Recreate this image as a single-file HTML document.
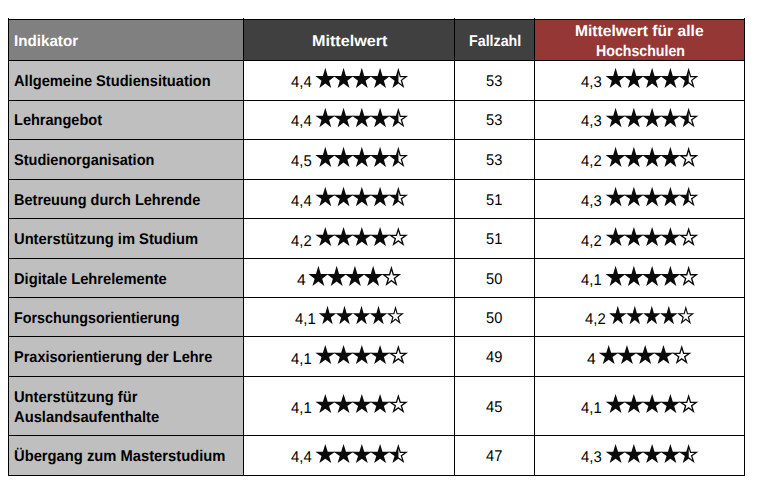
<!DOCTYPE html>
<html><head><meta charset="utf-8"><title>Indikatoren</title>
<style>
html,body{margin:0;padding:0;background:#fff;}
body{width:758px;height:494px;position:relative;overflow:hidden;font-family:"Liberation Sans",sans-serif;text-rendering:geometricPrecision;}
.bg{position:absolute;}
.ln{position:absolute;background:#000;}
.t{position:absolute;white-space:nowrap;transform-origin:0 14px;color:#000;}
.b{font-weight:bold;font-size:15.5px;line-height:20px;}
.r{font-size:15.5px;line-height:20px;}
.w{color:#fff;}
svg{position:absolute;left:0;top:0;}
</style></head><body>
<div class="bg" style="left:8px;top:19px;width:235px;height:41px;background:#808080"></div>
<div class="bg" style="left:243px;top:19px;width:291px;height:41px;background:#404040"></div>
<div class="bg" style="left:534px;top:19px;width:210px;height:41px;background:#953735"></div>
<div class="bg" style="left:8px;top:60px;width:235px;height:415px;background:#bfbfbf"></div>
<div class="ln" style="left:8px;top:19px;width:737px;height:1px"></div>
<div class="ln" style="left:8px;top:60px;width:737px;height:1px"></div>
<div class="ln" style="left:8px;top:100px;width:737px;height:1px"></div>
<div class="ln" style="left:8px;top:139px;width:737px;height:1px"></div>
<div class="ln" style="left:8px;top:179px;width:737px;height:1px"></div>
<div class="ln" style="left:8px;top:218px;width:737px;height:1px"></div>
<div class="ln" style="left:8px;top:258px;width:737px;height:1px"></div>
<div class="ln" style="left:8px;top:297px;width:737px;height:1px"></div>
<div class="ln" style="left:8px;top:336px;width:737px;height:1px"></div>
<div class="ln" style="left:8px;top:376px;width:737px;height:1px"></div>
<div class="ln" style="left:8px;top:435px;width:737px;height:1px"></div>
<div class="ln" style="left:8px;top:475px;width:737px;height:1px"></div>
<div class="ln" style="left:8px;top:18px;width:1px;height:458px"></div>
<div class="ln" style="left:243px;top:18px;width:1px;height:458px"></div>
<div class="ln" style="left:454px;top:18px;width:1px;height:458px"></div>
<div class="ln" style="left:534px;top:18px;width:1px;height:458px"></div>
<div class="ln" style="left:744px;top:18px;width:1px;height:458px"></div>
<div class="t b w" style="top:32px;left:14.30px;transform:scale(0.9793,1.000);">Indikator</div>
<div class="t b w" style="top:32px;left:311.50px;transform:scale(1.0422,1.000);">Mittelwert</div>
<div class="t b w" style="top:32px;left:468.55px;transform:scale(0.9198,1.000);">Fallzahl</div>
<div class="t b w" style="top:22px;left:575.30px;transform:scale(1.0089,1.000);">Mittelwert für alle</div>
<div class="t b w" style="top:42px;left:595.50px;transform:scale(0.9144,1.000);">Hochschulen</div>
<div class="t b" style="top:72px;left:14.30px;transform:scale(0.9438,1.000);">Allgemeine Studiensituation</div>
<div class="t r" style="top:73px;left:290.80px;transform:scale(0.9600,1.000);">4,4</div>
<div class="t r" style="top:72px;left:486.25px;transform:scale(0.9449,1.000);">53</div>
<div class="t r" style="top:73px;left:581.10px;transform:scale(0.9600,1.000);">4,3</div>
<div class="t b" style="top:111px;left:14.30px;transform:scale(0.9374,1.000);">Lehrangebot</div>
<div class="t r" style="top:112px;left:290.80px;transform:scale(0.9600,1.000);">4,4</div>
<div class="t r" style="top:111px;left:486.25px;transform:scale(0.9449,1.000);">53</div>
<div class="t r" style="top:112px;left:581.10px;transform:scale(0.9600,1.000);">4,3</div>
<div class="t b" style="top:151px;left:14.30px;transform:scale(0.9370,1.000);">Studienorganisation</div>
<div class="t r" style="top:152px;left:290.80px;transform:scale(0.9600,1.000);">4,5</div>
<div class="t r" style="top:151px;left:486.25px;transform:scale(0.9449,1.000);">53</div>
<div class="t r" style="top:152px;left:581.10px;transform:scale(0.9600,1.000);">4,2</div>
<div class="t b" style="top:191px;left:14.30px;transform:scale(0.9360,1.000);">Betreuung durch Lehrende</div>
<div class="t r" style="top:192px;left:290.80px;transform:scale(0.9600,1.000);">4,4</div>
<div class="t r" style="top:191px;left:486.25px;transform:scale(0.9449,1.000);">51</div>
<div class="t r" style="top:192px;left:581.10px;transform:scale(0.9600,1.000);">4,3</div>
<div class="t b" style="top:230px;left:14.30px;transform:scale(0.9497,1.000);">Unterstützung im Studium</div>
<div class="t r" style="top:232px;left:290.80px;transform:scale(0.9600,1.000);">4,2</div>
<div class="t r" style="top:230px;left:486.25px;transform:scale(0.9449,1.000);">51</div>
<div class="t r" style="top:232px;left:581.10px;transform:scale(0.9600,1.000);">4,2</div>
<div class="t b" style="top:270px;left:14.30px;transform:scale(0.9480,1.000);">Digitale Lehrelemente</div>
<div class="t r" style="top:271px;left:297.00px;transform:scale(1.0087,1.000);">4</div>
<div class="t r" style="top:270px;left:486.25px;transform:scale(0.9449,1.000);">50</div>
<div class="t r" style="top:271px;left:581.10px;transform:scale(0.9600,1.000);">4,1</div>
<div class="t b" style="top:309px;left:14.30px;transform:scale(0.9234,1.000);">Forschungsorientierung</div>
<div class="t r" style="top:310px;left:294.50px;transform:scale(0.9646,1.000);">4,1</div>
<div class="t r" style="top:309px;left:486.25px;transform:scale(0.9449,1.000);">50</div>
<div class="t r" style="top:310px;left:584.80px;transform:scale(0.9646,1.000);">4,2</div>
<div class="t b" style="top:348px;left:14.30px;transform:scale(0.9358,1.000);">Praxisorientierung der Lehre</div>
<div class="t r" style="top:350px;left:290.80px;transform:scale(0.9600,1.000);">4,1</div>
<div class="t r" style="top:348px;left:486.25px;transform:scale(0.9449,1.000);">49</div>
<div class="t r" style="top:350px;left:587.30px;transform:scale(1.0087,1.000);">4</div>
<div class="t b" style="top:388px;left:14.30px;transform:scale(0.9491,1.000);">Unterstützung für</div>
<div class="t b" style="top:408px;left:14.30px;transform:scale(0.9518,1.000);">Auslandsaufenthalte</div>
<div class="t r" style="top:399px;left:290.80px;transform:scale(0.9600,1.000);">4,1</div>
<div class="t r" style="top:398px;left:486.25px;transform:scale(0.9449,1.000);">45</div>
<div class="t r" style="top:399px;left:581.10px;transform:scale(0.9600,1.000);">4,1</div>
<div class="t b" style="top:447px;left:14.30px;transform:scale(0.9514,1.000);">Übergang zum Masterstudium</div>
<div class="t r" style="top:448px;left:290.80px;transform:scale(0.9600,1.000);">4,4</div>
<div class="t r" style="top:447px;left:486.25px;transform:scale(0.9449,1.000);">47</div>
<div class="t r" style="top:448px;left:581.10px;transform:scale(0.9600,1.000);">4,3</div>
<svg width="758" height="494" viewBox="0 0 758 494" fill="#0a0a0a">
<polygon points="325.30,67.85 327.71,76.03 335.25,76.03 329.08,80.69 331.25,88.05 325.30,83.55 319.35,88.05 321.52,80.69 315.35,76.03 322.89,76.03"/>
<polygon points="343.56,67.85 345.97,76.03 353.51,76.03 347.34,80.69 349.51,88.05 343.56,83.55 337.61,88.05 339.78,80.69 333.61,76.03 341.15,76.03"/>
<polygon points="361.82,67.85 364.23,76.03 371.77,76.03 365.60,80.69 367.77,88.05 361.82,83.55 355.87,88.05 358.04,80.69 351.87,76.03 359.41,76.03"/>
<polygon points="380.08,67.85 382.49,76.03 390.03,76.03 383.86,80.69 386.03,88.05 380.08,83.55 374.13,88.05 376.30,80.69 370.13,76.03 377.67,76.03"/>
<path fill-rule="evenodd" d="M398.34,67.85 L400.75,76.03 L408.09,76.03 L402.10,80.62 L404.29,88.05 L398.30,83.52 L392.39,88.05 L394.56,80.69 L388.39,76.03 L395.93,76.03 Z M398.44,72.66 L399.81,77.29 L404.36,77.29 L400.64,80.14 L402.00,84.73 L398.44,82.05 Z"/>
<polygon points="615.60,67.85 618.01,76.03 625.55,76.03 619.38,80.69 621.55,88.05 615.60,83.55 609.65,88.05 611.82,80.69 605.65,76.03 613.19,76.03"/>
<polygon points="633.86,67.85 636.27,76.03 643.81,76.03 637.64,80.69 639.81,88.05 633.86,83.55 627.91,88.05 630.08,80.69 623.91,76.03 631.45,76.03"/>
<polygon points="652.12,67.85 654.53,76.03 662.07,76.03 655.90,80.69 658.07,88.05 652.12,83.55 646.17,88.05 648.34,80.69 642.17,76.03 649.71,76.03"/>
<polygon points="670.38,67.85 672.79,76.03 680.33,76.03 674.16,80.69 676.33,88.05 670.38,83.55 664.43,88.05 666.60,80.69 660.43,76.03 667.97,76.03"/>
<path fill-rule="evenodd" d="M688.64,67.85 L691.05,76.03 L698.39,76.03 L692.40,80.62 L694.59,88.05 L688.60,83.52 L682.69,88.05 L684.86,80.69 L678.69,76.03 L686.23,76.03 Z M688.74,72.66 L690.11,77.29 L694.66,77.29 L690.94,80.14 L692.30,84.73 L688.74,82.05 Z"/>
<polygon points="325.30,107.85 327.71,115.67 335.25,115.67 329.08,120.12 331.25,127.15 325.30,122.85 319.35,127.15 321.52,120.12 315.35,115.67 322.89,115.67"/>
<polygon points="343.56,107.85 345.97,115.67 353.51,115.67 347.34,120.12 349.51,127.15 343.56,122.85 337.61,127.15 339.78,120.12 333.61,115.67 341.15,115.67"/>
<polygon points="361.82,107.85 364.23,115.67 371.77,115.67 365.60,120.12 367.77,127.15 361.82,122.85 355.87,127.15 358.04,120.12 351.87,115.67 359.41,115.67"/>
<polygon points="380.08,107.85 382.49,115.67 390.03,115.67 383.86,120.12 386.03,127.15 380.08,122.85 374.13,127.15 376.30,120.12 370.13,115.67 377.67,115.67"/>
<path fill-rule="evenodd" d="M398.34,107.85 L400.75,115.67 L408.09,115.67 L402.10,120.05 L404.29,127.15 L398.30,122.83 L392.39,127.15 L394.56,120.12 L388.39,115.67 L395.93,115.67 Z M398.44,112.46 L399.82,116.93 L404.23,116.93 L400.63,119.56 L401.97,123.92 L398.44,121.37 Z"/>
<polygon points="615.60,107.85 618.01,115.67 625.55,115.67 619.38,120.12 621.55,127.15 615.60,122.85 609.65,127.15 611.82,120.12 605.65,115.67 613.19,115.67"/>
<polygon points="633.86,107.85 636.27,115.67 643.81,115.67 637.64,120.12 639.81,127.15 633.86,122.85 627.91,127.15 630.08,120.12 623.91,115.67 631.45,115.67"/>
<polygon points="652.12,107.85 654.53,115.67 662.07,115.67 655.90,120.12 658.07,127.15 652.12,122.85 646.17,127.15 648.34,120.12 642.17,115.67 649.71,115.67"/>
<polygon points="670.38,107.85 672.79,115.67 680.33,115.67 674.16,120.12 676.33,127.15 670.38,122.85 664.43,127.15 666.60,120.12 660.43,115.67 667.97,115.67"/>
<path fill-rule="evenodd" d="M688.64,107.85 L691.05,115.67 L698.39,115.67 L692.40,120.05 L694.59,127.15 L688.60,122.83 L682.69,127.15 L684.86,120.12 L678.69,115.67 L686.23,115.67 Z M688.74,112.46 L690.12,116.93 L694.53,116.93 L690.93,119.56 L692.27,123.92 L688.74,121.37 Z"/>
<polygon points="325.30,146.85 327.71,155.03 335.25,155.03 329.08,159.69 331.25,167.05 325.30,162.55 319.35,167.05 321.52,159.69 315.35,155.03 322.89,155.03"/>
<polygon points="343.56,146.85 345.97,155.03 353.51,155.03 347.34,159.69 349.51,167.05 343.56,162.55 337.61,167.05 339.78,159.69 333.61,155.03 341.15,155.03"/>
<polygon points="361.82,146.85 364.23,155.03 371.77,155.03 365.60,159.69 367.77,167.05 361.82,162.55 355.87,167.05 358.04,159.69 351.87,155.03 359.41,155.03"/>
<polygon points="380.08,146.85 382.49,155.03 390.03,155.03 383.86,159.69 386.03,167.05 380.08,162.55 374.13,167.05 376.30,159.69 370.13,155.03 377.67,155.03"/>
<path fill-rule="evenodd" d="M398.34,146.85 L400.75,155.03 L408.09,155.03 L402.10,159.62 L404.29,167.05 L398.30,162.52 L392.39,167.05 L394.56,159.69 L388.39,155.03 L395.93,155.03 Z M398.44,151.66 L399.81,156.29 L404.36,156.29 L400.64,159.14 L402.00,163.73 L398.44,161.05 Z"/>
<polygon points="615.60,146.85 618.01,155.03 625.55,155.03 619.38,159.69 621.55,167.05 615.60,162.55 609.65,167.05 611.82,159.69 605.65,155.03 613.19,155.03"/>
<polygon points="633.86,146.85 636.27,155.03 643.81,155.03 637.64,159.69 639.81,167.05 633.86,162.55 627.91,167.05 630.08,159.69 623.91,155.03 631.45,155.03"/>
<polygon points="652.12,146.85 654.53,155.03 662.07,155.03 655.90,159.69 658.07,167.05 652.12,162.55 646.17,167.05 648.34,159.69 642.17,155.03 649.71,155.03"/>
<polygon points="670.38,146.85 672.79,155.03 680.33,155.03 674.16,159.69 676.33,167.05 670.38,162.55 664.43,167.05 666.60,159.69 660.43,155.03 667.97,155.03"/>
<path fill-rule="evenodd" d="M688.64,146.85 L691.05,155.03 L698.39,155.03 L692.40,159.62 L694.59,167.05 L688.60,162.52 L682.69,167.05 L684.86,159.69 L678.69,155.03 L686.23,155.03 Z M688.64,151.68 L690.03,156.39 L694.37,156.39 L690.83,159.10 L692.11,163.47 L688.60,160.81 L685.18,163.43 L686.43,159.17 L682.75,156.39 L687.25,156.39 Z"/>
<polygon points="325.30,186.85 327.71,194.67 335.25,194.67 329.08,199.12 331.25,206.15 325.30,201.85 319.35,206.15 321.52,199.12 315.35,194.67 322.89,194.67"/>
<polygon points="343.56,186.85 345.97,194.67 353.51,194.67 347.34,199.12 349.51,206.15 343.56,201.85 337.61,206.15 339.78,199.12 333.61,194.67 341.15,194.67"/>
<polygon points="361.82,186.85 364.23,194.67 371.77,194.67 365.60,199.12 367.77,206.15 361.82,201.85 355.87,206.15 358.04,199.12 351.87,194.67 359.41,194.67"/>
<polygon points="380.08,186.85 382.49,194.67 390.03,194.67 383.86,199.12 386.03,206.15 380.08,201.85 374.13,206.15 376.30,199.12 370.13,194.67 377.67,194.67"/>
<path fill-rule="evenodd" d="M398.34,186.85 L400.75,194.67 L408.09,194.67 L402.10,199.05 L404.29,206.15 L398.30,201.83 L392.39,206.15 L394.56,199.12 L388.39,194.67 L395.93,194.67 Z M398.44,191.46 L399.82,195.93 L404.23,195.93 L400.63,198.56 L401.97,202.92 L398.44,200.37 Z"/>
<polygon points="615.60,186.85 618.01,194.67 625.55,194.67 619.38,199.12 621.55,206.15 615.60,201.85 609.65,206.15 611.82,199.12 605.65,194.67 613.19,194.67"/>
<polygon points="633.86,186.85 636.27,194.67 643.81,194.67 637.64,199.12 639.81,206.15 633.86,201.85 627.91,206.15 630.08,199.12 623.91,194.67 631.45,194.67"/>
<polygon points="652.12,186.85 654.53,194.67 662.07,194.67 655.90,199.12 658.07,206.15 652.12,201.85 646.17,206.15 648.34,199.12 642.17,194.67 649.71,194.67"/>
<polygon points="670.38,186.85 672.79,194.67 680.33,194.67 674.16,199.12 676.33,206.15 670.38,201.85 664.43,206.15 666.60,199.12 660.43,194.67 667.97,194.67"/>
<path fill-rule="evenodd" d="M688.64,186.85 L691.05,194.67 L698.39,194.67 L692.40,199.05 L694.59,206.15 L688.60,201.83 L682.69,206.15 L684.86,199.12 L678.69,194.67 L686.23,194.67 Z M688.74,191.46 L690.12,195.93 L694.53,195.93 L690.93,198.56 L692.27,202.92 L688.74,200.37 Z"/>
<polygon points="325.30,226.95 327.71,234.69 335.25,234.69 329.08,239.09 331.25,246.05 325.30,241.80 319.35,246.05 321.52,239.09 315.35,234.69 322.89,234.69"/>
<polygon points="343.56,226.95 345.97,234.69 353.51,234.69 347.34,239.09 349.51,246.05 343.56,241.80 337.61,246.05 339.78,239.09 333.61,234.69 341.15,234.69"/>
<polygon points="361.82,226.95 364.23,234.69 371.77,234.69 365.60,239.09 367.77,246.05 361.82,241.80 355.87,246.05 358.04,239.09 351.87,234.69 359.41,234.69"/>
<polygon points="380.08,226.95 382.49,234.69 390.03,234.69 383.86,239.09 386.03,246.05 380.08,241.80 374.13,246.05 376.30,239.09 370.13,234.69 377.67,234.69"/>
<path fill-rule="evenodd" d="M398.34,226.95 L400.75,234.69 L408.09,234.69 L402.10,239.02 L404.29,246.05 L398.30,241.77 L392.39,246.05 L394.56,239.09 L388.39,234.69 L395.93,234.69 Z M398.34,231.53 L399.75,236.05 L403.88,236.05 L400.51,238.49 L401.78,242.58 L398.30,240.09 L394.91,242.54 L396.15,238.56 L392.64,236.05 L396.93,236.05 Z"/>
<polygon points="615.60,226.95 618.01,234.69 625.55,234.69 619.38,239.09 621.55,246.05 615.60,241.80 609.65,246.05 611.82,239.09 605.65,234.69 613.19,234.69"/>
<polygon points="633.86,226.95 636.27,234.69 643.81,234.69 637.64,239.09 639.81,246.05 633.86,241.80 627.91,246.05 630.08,239.09 623.91,234.69 631.45,234.69"/>
<polygon points="652.12,226.95 654.53,234.69 662.07,234.69 655.90,239.09 658.07,246.05 652.12,241.80 646.17,246.05 648.34,239.09 642.17,234.69 649.71,234.69"/>
<polygon points="670.38,226.95 672.79,234.69 680.33,234.69 674.16,239.09 676.33,246.05 670.38,241.80 664.43,246.05 666.60,239.09 660.43,234.69 667.97,234.69"/>
<path fill-rule="evenodd" d="M688.64,226.95 L691.05,234.69 L698.39,234.69 L692.40,239.02 L694.59,246.05 L688.60,241.77 L682.69,246.05 L684.86,239.09 L678.69,234.69 L686.23,234.69 Z M688.64,231.53 L690.05,236.05 L694.18,236.05 L690.81,238.49 L692.08,242.58 L688.60,240.09 L685.21,242.54 L686.45,238.56 L682.94,236.05 L687.23,236.05 Z"/>
<polygon points="318.40,265.85 320.81,274.03 328.35,274.03 322.18,278.69 324.35,286.05 318.40,281.55 312.45,286.05 314.62,278.69 308.45,274.03 315.99,274.03"/>
<polygon points="336.66,265.85 339.07,274.03 346.61,274.03 340.44,278.69 342.61,286.05 336.66,281.55 330.71,286.05 332.88,278.69 326.71,274.03 334.25,274.03"/>
<polygon points="354.92,265.85 357.33,274.03 364.87,274.03 358.70,278.69 360.87,286.05 354.92,281.55 348.97,286.05 351.14,278.69 344.97,274.03 352.51,274.03"/>
<polygon points="373.18,265.85 375.59,274.03 383.13,274.03 376.96,278.69 379.13,286.05 373.18,281.55 367.23,286.05 369.40,278.69 363.23,274.03 370.77,274.03"/>
<path fill-rule="evenodd" d="M391.44,265.85 L393.85,274.03 L401.19,274.03 L395.20,278.62 L397.39,286.05 L391.40,281.52 L385.49,286.05 L387.66,278.69 L381.49,274.03 L389.03,274.03 Z M391.44,270.68 L392.83,275.39 L397.17,275.39 L393.63,278.10 L394.91,282.47 L391.40,279.81 L387.98,282.43 L389.23,278.17 L385.55,275.39 L390.05,275.39 Z"/>
<polygon points="615.60,265.85 618.01,274.03 625.55,274.03 619.38,278.69 621.55,286.05 615.60,281.55 609.65,286.05 611.82,278.69 605.65,274.03 613.19,274.03"/>
<polygon points="633.86,265.85 636.27,274.03 643.81,274.03 637.64,278.69 639.81,286.05 633.86,281.55 627.91,286.05 630.08,278.69 623.91,274.03 631.45,274.03"/>
<polygon points="652.12,265.85 654.53,274.03 662.07,274.03 655.90,278.69 658.07,286.05 652.12,281.55 646.17,286.05 648.34,278.69 642.17,274.03 649.71,274.03"/>
<polygon points="670.38,265.85 672.79,274.03 680.33,274.03 674.16,278.69 676.33,286.05 670.38,281.55 664.43,286.05 666.60,278.69 660.43,274.03 667.97,274.03"/>
<path fill-rule="evenodd" d="M688.64,265.85 L691.05,274.03 L698.39,274.03 L692.40,278.62 L694.59,286.05 L688.60,281.52 L682.69,286.05 L684.86,278.69 L678.69,274.03 L686.23,274.03 Z M688.64,270.68 L690.03,275.39 L694.37,275.39 L690.83,278.10 L692.11,282.47 L688.60,279.81 L685.18,282.43 L686.43,278.17 L682.75,275.39 L687.25,275.39 Z"/>
<polygon points="327.50,305.65 329.61,313.14 336.22,313.14 330.81,317.41 332.71,324.15 327.50,320.03 322.29,324.15 324.19,317.41 318.78,313.14 325.39,313.14"/>
<polygon points="344.50,305.65 346.61,313.14 353.22,313.14 347.81,317.41 349.71,324.15 344.50,320.03 339.29,324.15 341.19,317.41 335.78,313.14 342.39,313.14"/>
<polygon points="361.50,305.65 363.61,313.14 370.22,313.14 364.81,317.41 366.71,324.15 361.50,320.03 356.29,324.15 358.19,317.41 352.78,313.14 359.39,313.14"/>
<polygon points="378.50,305.65 380.61,313.14 387.22,313.14 381.81,317.41 383.71,324.15 378.50,320.03 373.29,324.15 375.19,317.41 369.78,313.14 376.39,313.14"/>
<path fill-rule="evenodd" d="M395.50,305.65 L397.61,313.14 L404.04,313.14 L398.79,317.34 L400.71,324.15 L395.47,320.00 L390.29,324.15 L392.19,317.41 L386.78,313.14 L393.39,313.14 Z M395.50,310.05 L396.71,314.34 L400.64,314.34 L397.43,316.90 L398.56,320.93 L395.46,318.48 L392.45,320.89 L393.55,316.97 L390.22,314.34 L394.29,314.34 Z"/>
<polygon points="617.80,305.65 619.91,313.14 626.52,313.14 621.11,317.41 623.01,324.15 617.80,320.03 612.59,324.15 614.49,317.41 609.08,313.14 615.69,313.14"/>
<polygon points="634.80,305.65 636.91,313.14 643.52,313.14 638.11,317.41 640.01,324.15 634.80,320.03 629.59,324.15 631.49,317.41 626.08,313.14 632.69,313.14"/>
<polygon points="651.80,305.65 653.91,313.14 660.52,313.14 655.11,317.41 657.01,324.15 651.80,320.03 646.59,324.15 648.49,317.41 643.08,313.14 649.69,313.14"/>
<polygon points="668.80,305.65 670.91,313.14 677.52,313.14 672.11,317.41 674.01,324.15 668.80,320.03 663.59,324.15 665.49,317.41 660.08,313.14 666.69,313.14"/>
<path fill-rule="evenodd" d="M685.80,305.65 L687.91,313.14 L694.34,313.14 L689.09,317.34 L691.01,324.15 L685.77,320.00 L680.59,324.15 L682.49,317.41 L677.08,313.14 L683.69,313.14 Z M685.80,310.05 L687.01,314.34 L690.94,314.34 L687.73,316.90 L688.86,320.93 L685.76,318.48 L682.75,320.89 L683.85,316.97 L680.52,314.34 L684.59,314.34 Z"/>
<polygon points="325.30,344.95 327.71,352.69 335.25,352.69 329.08,357.09 331.25,364.05 325.30,359.80 319.35,364.05 321.52,357.09 315.35,352.69 322.89,352.69"/>
<polygon points="343.56,344.95 345.97,352.69 353.51,352.69 347.34,357.09 349.51,364.05 343.56,359.80 337.61,364.05 339.78,357.09 333.61,352.69 341.15,352.69"/>
<polygon points="361.82,344.95 364.23,352.69 371.77,352.69 365.60,357.09 367.77,364.05 361.82,359.80 355.87,364.05 358.04,357.09 351.87,352.69 359.41,352.69"/>
<polygon points="380.08,344.95 382.49,352.69 390.03,352.69 383.86,357.09 386.03,364.05 380.08,359.80 374.13,364.05 376.30,357.09 370.13,352.69 377.67,352.69"/>
<path fill-rule="evenodd" d="M398.34,344.95 L400.75,352.69 L408.09,352.69 L402.10,357.02 L404.29,364.05 L398.30,359.77 L392.39,364.05 L394.56,357.09 L388.39,352.69 L395.93,352.69 Z M398.34,349.53 L399.75,354.05 L403.88,354.05 L400.51,356.49 L401.78,360.58 L398.30,358.09 L394.91,360.54 L396.15,356.56 L392.64,354.05 L396.93,354.05 Z"/>
<polygon points="608.70,344.95 611.11,352.69 618.65,352.69 612.48,357.09 614.65,364.05 608.70,359.80 602.75,364.05 604.92,357.09 598.75,352.69 606.29,352.69"/>
<polygon points="626.96,344.95 629.37,352.69 636.91,352.69 630.74,357.09 632.91,364.05 626.96,359.80 621.01,364.05 623.18,357.09 617.01,352.69 624.55,352.69"/>
<polygon points="645.22,344.95 647.63,352.69 655.17,352.69 649.00,357.09 651.17,364.05 645.22,359.80 639.27,364.05 641.44,357.09 635.27,352.69 642.81,352.69"/>
<polygon points="663.48,344.95 665.89,352.69 673.43,352.69 667.26,357.09 669.43,364.05 663.48,359.80 657.53,364.05 659.70,357.09 653.53,352.69 661.07,352.69"/>
<path fill-rule="evenodd" d="M681.74,344.95 L684.15,352.69 L691.49,352.69 L685.50,357.02 L687.69,364.05 L681.70,359.77 L675.79,364.05 L677.96,357.09 L671.79,352.69 L679.33,352.69 Z M681.74,349.53 L683.15,354.05 L687.28,354.05 L683.91,356.49 L685.18,360.58 L681.70,358.09 L678.31,360.54 L679.55,356.56 L676.04,354.05 L680.33,354.05 Z"/>
<polygon points="325.30,393.95 327.71,401.69 335.25,401.69 329.08,406.09 331.25,413.05 325.30,408.80 319.35,413.05 321.52,406.09 315.35,401.69 322.89,401.69"/>
<polygon points="343.56,393.95 345.97,401.69 353.51,401.69 347.34,406.09 349.51,413.05 343.56,408.80 337.61,413.05 339.78,406.09 333.61,401.69 341.15,401.69"/>
<polygon points="361.82,393.95 364.23,401.69 371.77,401.69 365.60,406.09 367.77,413.05 361.82,408.80 355.87,413.05 358.04,406.09 351.87,401.69 359.41,401.69"/>
<polygon points="380.08,393.95 382.49,401.69 390.03,401.69 383.86,406.09 386.03,413.05 380.08,408.80 374.13,413.05 376.30,406.09 370.13,401.69 377.67,401.69"/>
<path fill-rule="evenodd" d="M398.34,393.95 L400.75,401.69 L408.09,401.69 L402.10,406.02 L404.29,413.05 L398.30,408.77 L392.39,413.05 L394.56,406.09 L388.39,401.69 L395.93,401.69 Z M398.34,398.53 L399.75,403.05 L403.88,403.05 L400.51,405.49 L401.78,409.58 L398.30,407.09 L394.91,409.54 L396.15,405.56 L392.64,403.05 L396.93,403.05 Z"/>
<polygon points="615.60,393.95 618.01,401.69 625.55,401.69 619.38,406.09 621.55,413.05 615.60,408.80 609.65,413.05 611.82,406.09 605.65,401.69 613.19,401.69"/>
<polygon points="633.86,393.95 636.27,401.69 643.81,401.69 637.64,406.09 639.81,413.05 633.86,408.80 627.91,413.05 630.08,406.09 623.91,401.69 631.45,401.69"/>
<polygon points="652.12,393.95 654.53,401.69 662.07,401.69 655.90,406.09 658.07,413.05 652.12,408.80 646.17,413.05 648.34,406.09 642.17,401.69 649.71,401.69"/>
<polygon points="670.38,393.95 672.79,401.69 680.33,401.69 674.16,406.09 676.33,413.05 670.38,408.80 664.43,413.05 666.60,406.09 660.43,401.69 667.97,401.69"/>
<path fill-rule="evenodd" d="M688.64,393.95 L691.05,401.69 L698.39,401.69 L692.40,406.02 L694.59,413.05 L688.60,408.77 L682.69,413.05 L684.86,406.09 L678.69,401.69 L686.23,401.69 Z M688.64,398.53 L690.05,403.05 L694.18,403.05 L690.81,405.49 L692.08,409.58 L688.60,407.09 L685.21,409.54 L686.45,405.56 L682.94,403.05 L687.23,403.05 Z"/>
<polygon points="325.30,443.95 327.71,451.69 335.25,451.69 329.08,456.09 331.25,463.05 325.30,458.80 319.35,463.05 321.52,456.09 315.35,451.69 322.89,451.69"/>
<polygon points="343.56,443.95 345.97,451.69 353.51,451.69 347.34,456.09 349.51,463.05 343.56,458.80 337.61,463.05 339.78,456.09 333.61,451.69 341.15,451.69"/>
<polygon points="361.82,443.95 364.23,451.69 371.77,451.69 365.60,456.09 367.77,463.05 361.82,458.80 355.87,463.05 358.04,456.09 351.87,451.69 359.41,451.69"/>
<polygon points="380.08,443.95 382.49,451.69 390.03,451.69 383.86,456.09 386.03,463.05 380.08,458.80 374.13,463.05 376.30,456.09 370.13,451.69 377.67,451.69"/>
<path fill-rule="evenodd" d="M398.34,443.95 L400.75,451.69 L408.09,451.69 L402.10,456.02 L404.29,463.05 L398.30,458.77 L392.39,463.05 L394.56,456.09 L388.39,451.69 L395.93,451.69 Z M398.44,448.52 L399.82,452.95 L404.19,452.95 L400.63,455.53 L401.97,459.84 L398.44,457.32 Z"/>
<polygon points="615.60,443.95 618.01,451.69 625.55,451.69 619.38,456.09 621.55,463.05 615.60,458.80 609.65,463.05 611.82,456.09 605.65,451.69 613.19,451.69"/>
<polygon points="633.86,443.95 636.27,451.69 643.81,451.69 637.64,456.09 639.81,463.05 633.86,458.80 627.91,463.05 630.08,456.09 623.91,451.69 631.45,451.69"/>
<polygon points="652.12,443.95 654.53,451.69 662.07,451.69 655.90,456.09 658.07,463.05 652.12,458.80 646.17,463.05 648.34,456.09 642.17,451.69 649.71,451.69"/>
<polygon points="670.38,443.95 672.79,451.69 680.33,451.69 674.16,456.09 676.33,463.05 670.38,458.80 664.43,463.05 666.60,456.09 660.43,451.69 667.97,451.69"/>
<path fill-rule="evenodd" d="M688.64,443.95 L691.05,451.69 L698.39,451.69 L692.40,456.02 L694.59,463.05 L688.60,458.77 L682.69,463.05 L684.86,456.09 L678.69,451.69 L686.23,451.69 Z M688.74,448.52 L690.12,452.95 L694.49,452.95 L690.93,455.53 L692.27,459.84 L688.74,457.32 Z"/>
</svg>
</body></html>
